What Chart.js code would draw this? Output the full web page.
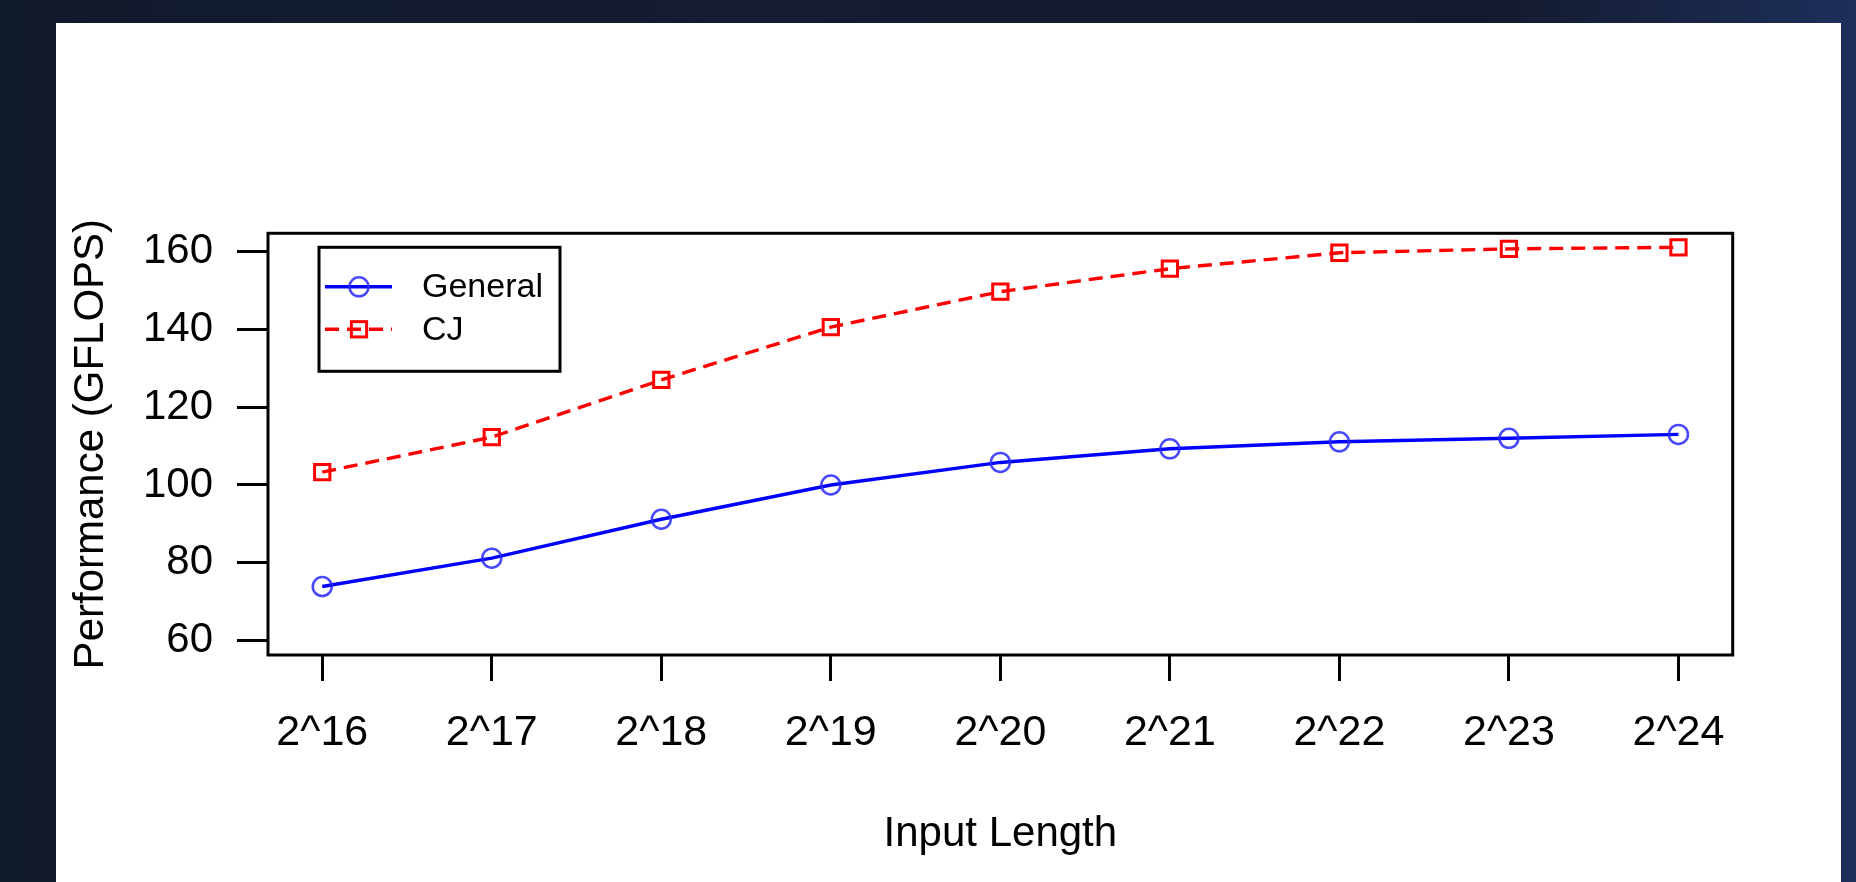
<!DOCTYPE html>
<html lang="en">
<head>
  <meta charset="UTF-8">
  <title>Performance vs Input Length</title>
  <script src="https://cdn.jsdelivr.net/npm/chart.js"></script>
  <style>
    body {
      margin: 0;
      width: 1856px;
      height: 882px;
      overflow: hidden;
      background: linear-gradient(90deg, #111a2b 0%, #151c33 40%, #141a2e 80%, #1d2f5a 100%);
    }

    .panel {
      position: absolute;
      left: 56px;
      top: 23px;
      width: 1785px;
      height: 859px;
      background: #ffffff;
    }
  </style>
</head>
<body>

  <div class="panel"><canvas id="perfChart"></canvas></div>

  <script>
    const xLabels = ['2^16', '2^17', '2^18', '2^19', '2^20', '2^21', '2^22', '2^23', '2^24'];
    const general = [73.9, 81.2, 91.2, 100.0, 105.8, 109.3, 111.1, 112.0, 113.0];
    const cj = [103.3, 112.3, 127.0, 140.6, 149.7, 155.6, 159.7, 160.7, 161.1];
    const yTicks = [60, 80, 100, 120, 140, 160];

    const font = 'Liberation Sans, Arial, sans-serif';

    // box round the plot region plus the legend in its top left corner
    const frameAndLegend = {
      id: 'frameAndLegend',
      afterDatasetsDraw(chart) {
        const ctx = chart.ctx;
        const a = chart.chartArea;
        ctx.save();
        ctx.strokeStyle = '#000';
        ctx.lineWidth = 3;
        ctx.strokeRect(a.left, a.top, a.right - a.left, a.bottom - a.top);

        // legend
        const lx = a.left + 51, ly = a.top + 14;
        ctx.strokeRect(lx, ly, 241, 124);
        chart.data.datasets.forEach((ds, i) => {
          const y = a.top + 53.5 + i * 42.5;
          const x0 = a.left + 57, x1 = a.left + 124, xm = a.left + 91;
          ctx.strokeStyle = ds.borderColor;
          ctx.lineWidth = ds.borderWidth;
          ctx.setLineDash(ds.borderDash || []);
          ctx.beginPath();
          ctx.moveTo(x0, y);
          ctx.lineTo(x1, y);
          ctx.stroke();
          ctx.setLineDash([]);
          ctx.strokeStyle = ds.pointBorderColor;
          ctx.lineWidth = ds.pointBorderWidth;
          if (ds.pointStyle === 'rect') {
            const s = ds.pointRadius * Math.SQRT1_2;
            ctx.strokeRect(xm - s, y - s, 2 * s, 2 * s);
          } else {
            ctx.beginPath();
            ctx.arc(xm, y, ds.pointRadius, 0, Math.PI * 2);
            ctx.stroke();
          }
          ctx.fillStyle = '#000';
          ctx.font = '34px ' + font;
          ctx.textAlign = 'left';
          ctx.textBaseline = 'middle';
          ctx.fillText(ds.label, a.left + 154, y + 1);
        });
        ctx.restore();
      }
    };

    new Chart(document.getElementById('perfChart'), {
      type: 'line',
      data: {
        datasets: [{
          label: 'General',
          data: general.map((v, i) => ({ x: i + 1, y: v })),
          borderColor: '#0000ff',
          borderWidth: 3.4,
          pointStyle: 'circle',
          pointRadius: 9.5,
          pointBorderWidth: 2.5,
          pointBorderColor: 'rgba(40, 40, 255, 0.85)',
          pointBackgroundColor: 'rgba(0, 0, 0, 0)',
          tension: 0
        }, {
          label: 'CJ',
          data: cj.map((v, i) => ({ x: i + 1, y: v })),
          borderColor: '#ff0000',
          borderWidth: 3.4,
          borderDash: [14, 8],
          pointStyle: 'rect',
          pointRadius: 10.8,
          pointBorderWidth: 3,
          pointBorderColor: '#ff0000',
          pointBackgroundColor: 'rgba(0, 0, 0, 0)',
          tension: 0
        }]
      },
      options: {
        responsive: true,
        maintainAspectRatio: false,
        animation: false,
        layout: { padding: { top: 210.3, right: 108.3, left: 0, bottom: 0 } },
        plugins: {
          legend: { display: false },
          tooltip: { enabled: false }
        },
        scales: {
          x: {
            type: 'linear',
            min: 0.68,
            max: 9.32,
            afterBuildTicks: (scale) => { scale.ticks = xLabels.map((_, i) => ({ value: i + 1 })); },
            afterFit: (scale) => { scale.height = 227; },
            ticks: {
              autoSkip: false,
              maxRotation: 0,
              padding: 26,
              color: '#000',
              font: { family: font, size: 43 },
              callback: (v) => xLabels[v - 1]
            },
            grid: { drawOnChartArea: false, drawTicks: true, tickLength: 26, tickWidth: 3, tickColor: '#000' },
            border: { display: false },
            title: {
              display: true,
              text: 'Input Length',
              color: '#000',
              font: { family: font, size: 42 },
              padding: { top: 0, bottom: 22 }
            }
          },
          y: {
            min: 56.3,
            max: 164.7,
            afterBuildTicks: (scale) => { scale.ticks = yTicks.map(v => ({ value: v })); },
            afterFit: (scale) => { scale.width = 212; },
            ticks: {
              padding: 24,
              color: '#000',
              font: { family: font, size: 42 }
            },
            grid: { drawOnChartArea: false, drawTicks: true, tickLength: 31, tickWidth: 3, tickColor: '#000' },
            border: { display: false },
            title: {
              display: true,
              text: 'Performance (GFLOPS)',
              color: '#000',
              font: { family: font, size: 42 },
              padding: { top: 10, bottom: 0 }
            }
          }
        }
      },
      plugins: [frameAndLegend]
    });
  </script>

</body>
</html>
